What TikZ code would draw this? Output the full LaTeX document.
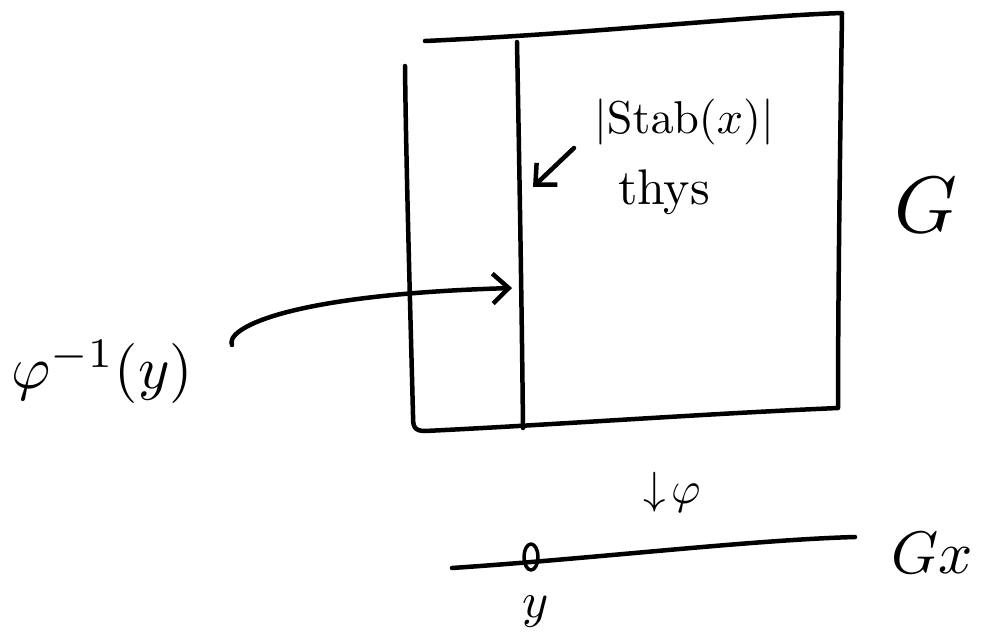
\documentclass[tikz,border=0pt]{standalone}
\usetikzlibrary{arrows.meta}
\begin{document}
\begin{tikzpicture}[x=1pt,y=-1pt,
  pen/.style={line width=4.5pt,line cap=round,line join=round},
  tip/.style={-{Straight Barb[length=16pt,width=30pt,line width=4.5pt]}},
  lbl/.style={inner sep=0pt,anchor=center}]
\useasboundingbox (0,0) rectangle (998,642);
% the block G
\draw[pen] (425,41) .. controls (600,33) and (750,16) .. (842,13)
  .. controls (840,150) and (838,300) .. (838,408)
  .. controls (700,414) and (550,425) .. (425,431)
  .. controls (413,431) and (413,425) .. (413,415)
  .. controls (410,300) and (406,160) .. (405,66);
% the fibre
\draw[pen] (517,42) .. controls (520,200) and (522,330) .. (523,428);
% labels
\node[lbl,scale=4.6] (stab) at (684,122) {$|\mathrm{Stab}(x)|$};
\node[lbl,scale=5] (thys) at (664,192) {thys};
\node[lbl,scale=8] (G) at (926,205) {$G$};
\node[lbl,scale=6] (phiinv) at (102,372) {$\varphi^{-1}(y)$};
\node[lbl,scale=4.5] (map) at (672,492) {$\downarrow\!\varphi$};
\node[lbl,scale=6] (Gx) at (932,553) {$Gx$};
\node[lbl,scale=5] (ylab) at (536,612) {$y$};
% arrows
\coordinate (fibreA) at (512,288);
\coordinate (fibreB) at (533,187);
\coordinate (stabtail) at (574,148);
\draw[pen,tip] (232,345) .. controls (225,330) and (280,295) .. (fibreA);
\draw[pen,tip] (stabtail) -- (fibreB);
% the orbit
\coordinate (orbL) at (452,568);
\coordinate (orbR) at (855,537);
\draw[pen] (orbL) .. controls (600,558) and (750,540) .. (orbR);
\draw[pen,line width=3.5pt] (531,557) ellipse [x radius=7pt,y radius=13pt];
\end{tikzpicture}
\end{document}
